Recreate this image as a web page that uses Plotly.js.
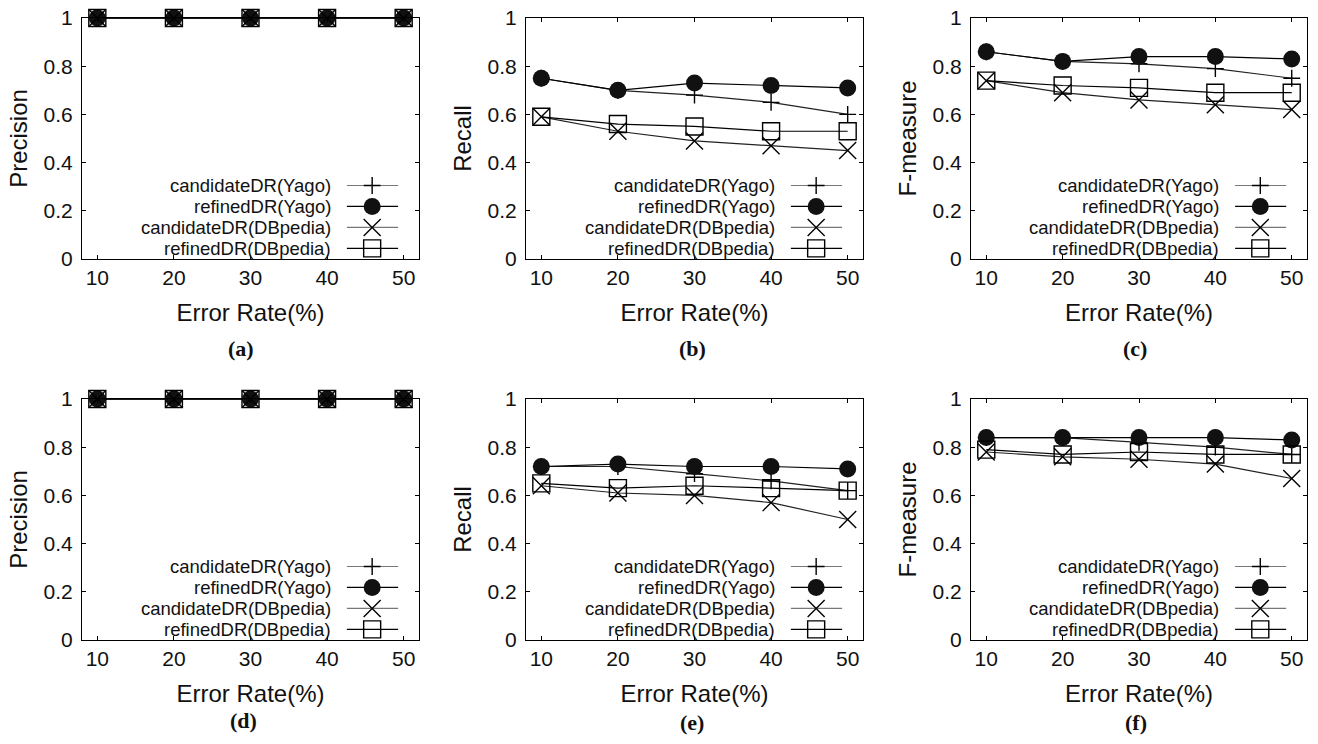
<!DOCTYPE html>
<html><head><meta charset="utf-8">
<script src="https://cdn.plot.ly/plotly-3.0.1.min.js"></script>
<style>html,body{margin:0;padding:0;background:#fff}#chart{width:1318px;height:744px}</style>
</head><body><div id="chart"></div>
<script>
// ---------- data ----------
const errorRates = [10, 20, 30, 40, 50];
const seriesNames = ['candidateDR(Yago)', 'refinedDR(Yago)', 'candidateDR(DBpedia)', 'refinedDR(DBpedia)'];
const xTickVals = [10, 20, 30, 40, 50];
const yTickVals = [0, 0.2, 0.4, 0.6, 0.8, 1];
const yTickText = ['0', '0.2', '0.4', '0.6', '0.8', '1'];
const panelLabels = ['(a)', '(b)', '(c)', '(d)', '(e)', '(f)'];
const yTitles = ['Precision', 'Recall', 'F-measure', 'Precision', 'Recall', 'F-measure'];
const xTitle = 'Error Rate(%)';

// (a) Precision
const a_candYago = [1, 1, 1, 1, 1];
const a_refYago = [1, 1, 1, 1, 1];
const a_candDB = [1, 1, 1, 1, 1];
const a_refDB = [1, 1, 1, 1, 1];
// (b) Recall
const b_candYago = [0.75, 0.70, 0.68, 0.65, 0.60];
const b_refYago = [0.75, 0.70, 0.73, 0.72, 0.71];
const b_candDB = [0.59, 0.53, 0.49, 0.47, 0.45];
const b_refDB = [0.59, 0.56, 0.55, 0.53, 0.53];
// (c) F-measure
const c_candYago = [0.86, 0.82, 0.81, 0.79, 0.75];
const c_refYago = [0.86, 0.82, 0.84, 0.84, 0.83];
const c_candDB = [0.74, 0.69, 0.66, 0.64, 0.62];
const c_refDB = [0.74, 0.72, 0.71, 0.69, 0.69];
// (d) Precision
const d_candYago = [1, 1, 1, 1, 1];
const d_refYago = [1, 1, 1, 1, 1];
const d_candDB = [1, 1, 1, 1, 1];
const d_refDB = [1, 1, 1, 1, 1];
// (e) Recall
const e_candYago = [0.72, 0.72, 0.69, 0.66, 0.62];
const e_refYago = [0.72, 0.73, 0.72, 0.72, 0.71];
const e_candDB = [0.64, 0.61, 0.60, 0.57, 0.50];
const e_refDB = [0.65, 0.63, 0.64, 0.63, 0.62];
// (f) F-measure
const f_candYago = [0.84, 0.84, 0.82, 0.80, 0.77];
const f_refYago = [0.84, 0.84, 0.84, 0.84, 0.83];
const f_candDB = [0.78, 0.76, 0.75, 0.73, 0.67];
const f_refDB = [0.79, 0.77, 0.78, 0.77, 0.77];

const panelData = [
  [a_candYago, a_refYago, a_candDB, a_refDB],
  [b_candYago, b_refYago, b_candDB, b_refDB],
  [c_candYago, c_refYago, c_candDB, c_refDB],
  [d_candYago, d_refYago, d_candDB, d_refDB],
  [e_candYago, e_refYago, e_candDB, e_refDB],
  [f_candYago, f_refYago, f_candDB, f_refDB]
];

// ---------- styles ----------
const W = 1318, H = 744;
const XRANGE = [8, 52];
const FONT = 'Liberation Sans, Arial, sans-serif';
const TXT = '#111';
const markerStyles = [
  {symbol: 'cross-thin-open', size: 12, color: '#000', line: {color: '#000', width: 1.4}},
  {symbol: 'circle', size: 17, color: '#111', line: {color: '#111', width: 0}},
  {symbol: 'x-thin-open', size: 17, color: '#000', line: {color: '#000', width: 1.4}},
  {symbol: 'square-open', size: 17, color: '#000', line: {color: '#000', width: 1.4}}
];
const lineColors = ['#222', '#000', '#222', '#000'];
const legendLineColors = ['#777', '#000', '#777', '#000'];

const colPx = [[82, 419], [526, 863], [971, 1307]];
const rowPx = [[18, 259], [399, 640]];
const labelPos = [[241, 348], [692, 348], [1135, 348], [243, 720], [692, 722], [1136, 722]];
const legRowsFrac = [0.305, 0.218, 0.131, 0.044];
const legTextRight = 0.745, legLine0 = 0.786, legLine1 = 0.938, legMark = 0.861;

const traces = [];
const layout = {
  width: W, height: H,
  margin: {l: 0, r: 0, t: 0, b: 0},
  paper_bgcolor: '#fff', plot_bgcolor: '#fff',
  showlegend: false,
  font: {family: FONT, color: TXT},
  annotations: [], shapes: []
};

for (let p = 0; p < 6; p++) {
  const col = p % 3, row = Math.floor(p / 3);
  const n = p === 0 ? '' : String(p + 1);
  const xa = 'x' + n, ya = 'y' + n;
  const cp = colPx[col], rp = rowPx[row];
  layout['xaxis' + n] = {
    domain: [cp[0] / W, cp[1] / W], anchor: ya, range: XRANGE,
    tickmode: 'array', tickvals: xTickVals, ticks: 'inside', ticklen: 4, tickwidth: 1, tickcolor: '#000',
    showline: true, linecolor: '#000', linewidth: 1, mirror: 'ticks',
    showgrid: false, zeroline: false, fixedrange: true,
    tickfont: {family: FONT, size: 21, color: TXT},
    title: {text: xTitle, font: {family: FONT, size: 24, color: TXT}, standoff: 15}
  };
  layout['yaxis' + n] = {
    domain: [1 - rp[1] / H, 1 - rp[0] / H], anchor: xa, range: [0, 1],
    tickmode: 'array', tickvals: yTickVals, ticktext: yTickText, ticks: 'inside', ticklen: 4, tickwidth: 1, tickcolor: '#000',
    showline: true, linecolor: '#000', linewidth: 1, mirror: 'ticks',
    showgrid: false, zeroline: false, fixedrange: true, ticklabelstandoff: 4,
    tickfont: {family: FONT, size: 21, color: TXT},
    title: {text: yTitles[p], font: {family: FONT, size: 24, color: TXT}, standoff: 9}
  };
  // data traces
  for (let s = 0; s < 4; s++) {
    const ms = markerStyles[s];
    traces.push({
      type: 'scatter', mode: 'lines+markers', x: errorRates, y: panelData[p][s],
      xaxis: xa, yaxis: ya, name: seriesNames[s], cliponaxis: false,
      line: {color: lineColors[s], width: 1.2},
      marker: {symbol: ms.symbol, size: ms.size, color: ms.color, line: ms.line},
      hoverinfo: 'skip'
    });
  }
  // in-plot key (gnuplot style: text right-aligned, sample on the right)
  const xm = XRANGE[0] + legMark * (XRANGE[1] - XRANGE[0]);
  for (let s = 0; s < 4; s++) {
    const fy = legRowsFrac[s];
    layout.annotations.push({
      xref: xa + ' domain', yref: ya + ' domain', x: legTextRight, y: fy,
      xanchor: 'right', yanchor: 'middle', showarrow: false, text: seriesNames[s],
      font: {family: FONT, size: 18.5, color: TXT}
    });
    layout.shapes.push({
      type: 'line', xref: xa + ' domain', yref: ya + ' domain',
      x0: legLine0, x1: legLine1, y0: fy, y1: fy,
      line: {color: legendLineColors[s], width: 1.2}, layer: 'below'
    });
    const ms = markerStyles[s];
    traces.push({
      type: 'scatter', mode: 'markers', x: [xm], y: [fy], xaxis: xa, yaxis: ya,
      marker: {symbol: ms.symbol, size: ms.size, color: ms.color, line: ms.line},
      hoverinfo: 'skip', showlegend: false
    });
  }
  // panel label
  layout.annotations.push({
    xref: 'paper', yref: 'paper', x: labelPos[p][0] / W, y: 1 - labelPos[p][1] / H,
    xanchor: 'center', yanchor: 'middle', showarrow: false, text: '<b>' + panelLabels[p] + '</b>',
    font: {family: 'Liberation Serif, Times New Roman, serif', size: 22, color: TXT}
  });
}

Plotly.newPlot('chart', traces, layout, {displayModeBar: false, staticPlot: true});
</script>
</body></html>
